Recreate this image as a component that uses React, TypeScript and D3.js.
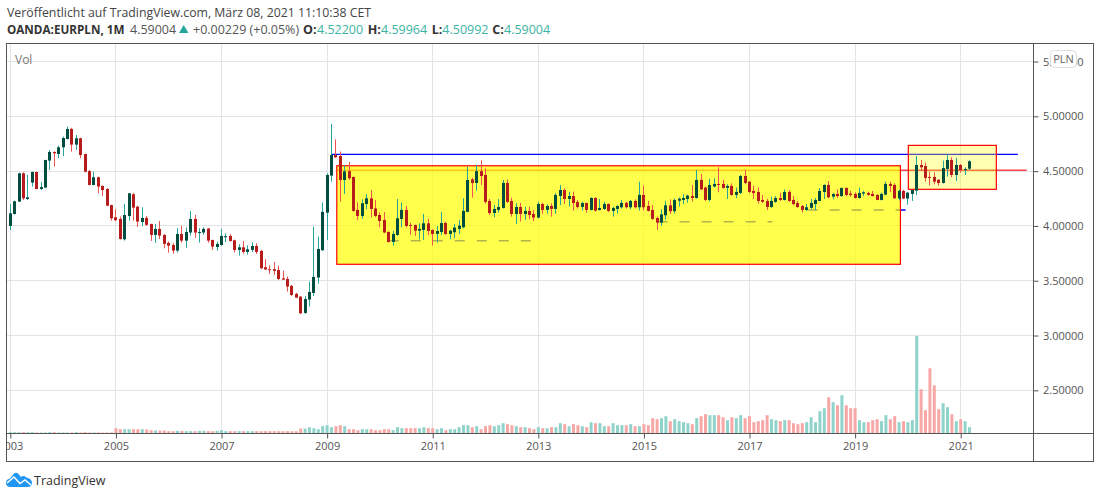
import * as React from 'react';
import * as d3 from 'd3';

const FONT = '"Open Sans", "DejaVu Sans", sans-serif';

// monthly candles from Jan 2003, one row per year
const opens = [
  4.000,4.109,4.222,4.480,4.246,4.395,4.492,4.337,4.350,4.596,4.675,4.656,
  4.717,4.793,4.884,4.742,4.800,4.656,4.500,4.374,4.444,4.365,4.337,4.190,
  4.079,4.064,3.878,4.090,4.289,4.176,4.036,4.073,4.018,3.918,3.973,3.918,
  3.845,3.826,3.775,3.927,3.866,3.940,4.064,3.940,3.940,3.976,3.872,3.808,
  3.826,3.903,3.909,3.869,3.781,3.805,3.763,3.781,3.817,3.772,3.623,3.605,
  3.605,3.598,3.522,3.516,3.453,3.380,3.355,3.206,3.328,3.389,3.529,3.778,
  4.121,4.459,4.647,4.638,4.419,4.500,4.447,4.146,4.091,4.200,4.252,4.160,
  4.100,4.055,3.945,3.854,3.918,4.064,4.146,4.009,4.009,3.957,3.963,4.024,
  3.963,3.927,3.945,4.027,3.927,3.942,3.973,3.988,4.128,4.425,4.392,4.500,
  4.465,4.228,4.118,4.146,4.164,4.392,4.228,4.109,4.173,4.109,4.137,4.109,
  4.076,4.200,4.146,4.182,4.155,4.273,4.328,4.246,4.273,4.219,4.173,4.209,
  4.146,4.255,4.146,4.155,4.200,4.137,4.155,4.170,4.210,4.170,4.228,4.170,
  4.283,4.182,4.146,4.073,4.030,4.097,4.188,4.134,4.230,4.237,4.246,4.273,
  4.255,4.420,4.350,4.237,4.360,4.383,4.383,4.347,4.365,4.283,4.301,4.456,
  4.404,4.320,4.310,4.237,4.228,4.173,4.220,4.255,4.237,4.310,4.237,4.210,
  4.182,4.146,4.165,4.200,4.228,4.310,4.374,4.267,4.292,4.273,4.347,4.295,
  4.292,4.255,4.295,4.301,4.292,4.283,4.237,4.286,4.383,4.374,4.250,4.320,
  4.250,4.292,4.322,4.556,4.547,4.447,4.447,4.422,4.392,4.520,4.602,4.465,
  4.556,4.510,4.522,
];
const highs = [
  4.200,4.231,4.485,4.490,4.465,4.495,4.495,4.401,4.602,4.693,4.680,4.732,
  4.815,4.906,4.895,4.830,4.805,4.660,4.510,4.495,4.450,4.370,4.345,4.195,
  4.152,4.085,4.200,4.300,4.300,4.185,4.170,4.090,4.020,4.018,4.045,3.925,
  3.857,3.842,3.979,4.000,3.988,4.137,4.100,3.979,3.988,3.980,3.875,3.857,
  3.973,3.933,3.924,3.875,3.833,3.863,3.823,3.851,3.842,3.780,3.696,3.641,
  3.672,3.635,3.592,3.538,3.463,3.390,3.360,3.361,3.492,3.994,3.903,4.213,
  4.480,4.930,4.790,4.680,4.556,4.584,4.450,4.216,4.243,4.292,4.328,4.237,
  4.124,4.128,3.950,3.957,4.246,4.213,4.182,4.030,4.012,4.024,4.109,4.064,
  3.970,4.000,4.128,4.040,3.963,4.018,4.055,4.252,4.541,4.440,4.556,4.600,
  4.526,4.246,4.191,4.246,4.419,4.425,4.258,4.207,4.210,4.176,4.176,4.146,
  4.220,4.210,4.197,4.207,4.298,4.374,4.343,4.313,4.313,4.237,4.220,4.213,
  4.262,4.262,4.246,4.220,4.207,4.176,4.190,4.237,4.222,4.237,4.243,4.404,
  4.368,4.228,4.192,4.085,4.152,4.228,4.243,4.252,4.261,4.289,4.286,4.374,
  4.511,4.474,4.360,4.429,4.435,4.535,4.420,4.380,4.389,4.350,4.465,4.511,
  4.410,4.368,4.350,4.283,4.246,4.267,4.273,4.304,4.334,4.328,4.273,4.228,
  4.190,4.200,4.246,4.255,4.344,4.380,4.410,4.298,4.334,4.347,4.350,4.320,
  4.307,4.350,4.319,4.313,4.319,4.289,4.304,4.404,4.404,4.389,4.330,4.330,
  4.310,4.328,4.638,4.602,4.577,4.495,4.489,4.425,4.596,4.653,4.626,4.623,
  4.565,4.535,4.59964,
];
const lows = [
  3.963,4.105,4.220,4.237,4.237,4.359,4.335,4.328,4.345,4.511,4.541,4.617,
  4.638,4.790,4.678,4.693,4.617,4.489,4.370,4.370,4.298,4.273,4.180,4.048,
  4.045,3.875,3.866,4.048,4.048,3.990,4.000,4.000,3.863,3.845,3.881,3.796,
  3.757,3.747,3.757,3.848,3.800,3.912,3.893,3.848,3.921,3.848,3.781,3.775,
  3.820,3.851,3.857,3.757,3.729,3.747,3.738,3.763,3.744,3.605,3.600,3.562,
  3.553,3.507,3.507,3.401,3.361,3.342,3.197,3.197,3.264,3.361,3.474,3.772,
  3.872,4.404,4.620,4.222,4.292,4.420,4.130,4.055,4.064,4.152,4.076,4.080,
  3.988,3.933,3.848,3.820,3.909,3.988,3.985,3.918,3.909,3.878,3.872,3.918,
  3.820,3.848,3.918,3.918,3.878,3.888,3.924,3.978,4.125,4.258,4.322,4.374,
  4.203,4.100,4.079,4.121,4.158,4.210,4.085,4.018,4.040,4.055,4.060,4.045,
  4.070,4.110,4.110,4.085,4.110,4.190,4.200,4.176,4.140,4.160,4.140,4.120,
  4.140,4.130,4.140,4.146,4.125,4.085,4.115,4.158,4.160,4.152,4.160,4.140,
  4.143,4.131,4.055,3.963,4.000,4.058,4.109,4.112,4.176,4.200,4.213,4.222,
  4.249,4.328,4.228,4.222,4.350,4.307,4.340,4.246,4.273,4.255,4.290,4.380,
  4.300,4.246,4.204,4.210,4.146,4.165,4.210,4.228,4.232,4.219,4.190,4.165,
  4.122,4.137,4.155,4.146,4.225,4.246,4.252,4.243,4.255,4.264,4.270,4.267,
  4.249,4.249,4.273,4.276,4.267,4.234,4.232,4.280,4.310,4.246,4.233,4.243,
  4.194,4.228,4.283,4.504,4.404,4.368,4.380,4.368,4.386,4.450,4.444,4.410,
  4.486,4.465,4.50992,
];
const closes = [
  4.115,4.225,4.480,4.252,4.261,4.492,4.337,4.355,4.602,4.675,4.663,4.717,
  4.802,4.884,4.742,4.800,4.647,4.495,4.374,4.444,4.359,4.328,4.185,4.070,
  4.052,3.881,4.100,4.298,4.167,4.040,4.073,4.010,3.918,3.973,3.912,3.836,
  3.820,3.775,3.927,3.866,3.945,4.064,3.940,3.945,3.973,3.866,3.811,3.836,
  3.909,3.906,3.863,3.781,3.805,3.763,3.787,3.817,3.763,3.614,3.602,3.602,
  3.590,3.516,3.510,3.447,3.370,3.346,3.203,3.334,3.398,3.535,3.790,4.128,
  4.465,4.647,4.626,4.419,4.498,4.435,4.137,4.091,4.207,4.252,4.155,4.091,
  4.045,3.940,3.854,3.927,4.070,4.146,4.000,4.003,3.957,3.973,4.024,3.954,
  3.927,3.954,4.027,3.927,3.957,3.985,4.003,4.137,4.419,4.392,4.500,4.456,
  4.219,4.118,4.155,4.173,4.392,4.219,4.109,4.173,4.109,4.137,4.100,4.076,
  4.200,4.146,4.182,4.155,4.283,4.328,4.246,4.273,4.209,4.173,4.209,4.146,
  4.255,4.140,4.164,4.200,4.137,4.164,4.182,4.210,4.170,4.228,4.170,4.283,
  4.170,4.137,4.064,4.030,4.106,4.188,4.134,4.237,4.248,4.255,4.276,4.255,
  4.420,4.334,4.237,4.374,4.383,4.374,4.347,4.365,4.283,4.310,4.456,4.392,
  4.310,4.300,4.228,4.220,4.173,4.228,4.255,4.237,4.310,4.228,4.200,4.173,
  4.146,4.170,4.210,4.237,4.319,4.374,4.261,4.292,4.273,4.347,4.283,4.283,
  4.255,4.301,4.307,4.283,4.273,4.237,4.292,4.383,4.365,4.252,4.320,4.250,
  4.304,4.328,4.556,4.535,4.438,4.438,4.404,4.392,4.529,4.602,4.465,4.556,
  4.511,4.520,4.59004,
];
const volumes = [
  4,4,4,4,4,4,3,3,3,4,4,3,
  3,3,3,4,3,4,3,3,3,3,3,3,
  16,13,13,13,13,13,13,12,10,9,9,9,
  7,7,8,8,7,7,7,8,8,7,7,8,
  10,7,7,7,7,7,7,7,7,7,7,7,
  7,7,7,7,7,7,15,15,19,16,13,22,
  25,19,22,25,22,13,13,10,13,13,13,10,
  10,13,13,10,19,16,16,16,16,16,19,16,
  16,13,16,10,13,13,19,25,25,19,22,13,
  22,25,22,25,31,28,25,22,19,19,16,13,
  19,16,16,19,19,31,28,22,28,25,22,19,
  34,31,31,22,22,31,25,25,25,28,22,22,
  28,25,46,43,46,52,37,43,37,34,31,28,
  46,52,58,55,55,55,49,40,49,46,55,46,
  52,34,37,40,55,43,40,37,40,40,31,28,
  31,34,49,34,67,76,109,94,85,115,85,76,
  76,40,34,34,40,43,37,55,43,52,34,37,
  34,40,293,133,70,196,145,73,91,79,58,37,
  43,37,19,
];

const yearLabels = ['2003','2005','2007','2009','2011','2013','2015','2017','2019','2021'];
const priceTicks = [5.5, 5, 4.5, 4, 3.5, 3, 2.5];

// hand-drawn objects on the chart, in [month index, price]
const boxes = [
  { from: 74.2, to: 202.3, top: 4.549, bottom: 3.65, fill: 'rgba(255,255,0,0.7)' },
  { from: 204.1, to: 224.1, top: 4.735, bottom: 4.334, fill: 'rgba(255,255,0,0.3)' },
];
const levels = [
  { from: 73.1, to: 229, price: 4.653, color: '#0000ff', width: 1.2, dash: null },
  { from: 74.2, to: 231, price: 4.507, color: '#ff3d4f', width: 1.5, dash: null },
  { from: 86, to: 118.3, price: 3.865, color: '#0000ff', width: 1.4, dash: '10 12' },
  { from: 147.1, to: 173.2, price: 4.038, color: '#0000ff', width: 1.4, dash: '10 12' },
  { from: 181.2, to: 203.5, price: 4.145, color: '#0000ff', width: 1.4, dash: '10 12' },
];

const quoteParts = [
  { x: 130, text: '4.59004', color: '#555', weight: 400 },
  { x: 193, text: '+0.00229 (+0.05%)', color: '#555', weight: 400 },
  { x: 303, text: 'O:', color: '#333', weight: 700 },
  { x: 317, text: '4.52200', color: '#3bb3a4', weight: 400 },
  { x: 367.7, text: 'H:', color: '#333', weight: 700 },
  { x: 381, text: '4.59964', color: '#3bb3a4', weight: 400 },
  { x: 431.7, text: 'L:', color: '#333', weight: 700 },
  { x: 442.3, text: '4.50992', color: '#3bb3a4', weight: 400 },
  { x: 492.3, text: 'C:', color: '#333', weight: 700 },
  { x: 504, text: '4.59004', color: '#3bb3a4', weight: 400 },
];

const frame = { left: 6.5, right: 1093.5, top: 43.5, bottom: 461.5, axisX: 1033.5, axisY: 433.5 };

const App = () => {
  const ref = React.useRef<SVGSVGElement>(null);

  React.useEffect(() => {
    const svg = d3.select(ref.current);
    svg.selectAll('*').remove();

    const x = d3.scaleLinear().domain([0, 216]).range([10.33, 960.7]);
    const y = d3.scaleLinear().domain([5, 2.5]).range([116.33, 390.33]);
    const vol = d3.scaleLinear().domain([0, 293]).range([frame.axisY, 336]);
    const crisp = (v: number) => Math.floor(v) + 0.5;

    const yearIdx = yearLabels.map((_, i) => i * 24);

    svg.append('defs').append('clipPath').attr('id', 'pane')
      .append('rect')
      .attr('x', frame.left).attr('y', frame.top)
      .attr('width', frame.axisX - frame.left).attr('height', frame.bottom - frame.top);

    const g = svg.append('g').attr('clip-path', 'url(#pane)');

    // grid
    g.selectAll('.vgrid').data(yearIdx).enter().append('line')
      .attr('x1', (d) => crisp(x(d))).attr('x2', (d) => crisp(x(d)))
      .attr('y1', frame.top).attr('y2', frame.axisY)
      .attr('stroke', '#e4e4e6');
    g.selectAll('.hgrid').data(priceTicks).enter().append('line')
      .attr('x1', frame.left).attr('x2', frame.axisX)
      .attr('y1', (d) => crisp(y(d))).attr('y2', (d) => crisp(y(d)))
      .attr('stroke', '#e4e4e6');

    // levels sit under the boxes, the yellow tints them
    g.selectAll('.level').data(levels).enter().append('line')
      .attr('x1', (d) => x(d.from)).attr('x2', (d) => x(d.to))
      .attr('y1', (d) => y(d.price)).attr('y2', (d) => y(d.price))
      .attr('stroke', (d) => d.color)
      .attr('stroke-width', (d) => d.width)
      .attr('stroke-dasharray', (d) => d.dash);

    g.selectAll('.box').data(boxes).enter().append('rect')
      .attr('x', (d) => x(d.from)).attr('y', (d) => y(d.top))
      .attr('width', (d) => x(d.to) - x(d.from))
      .attr('height', (d) => y(d.bottom) - y(d.top))
      .attr('fill', (d) => d.fill)
      .attr('stroke', '#ff0000').attr('stroke-width', 1.2);

    const isUp = (i: number) => closes[i] >= opens[i];

    // volume
    g.selectAll('.vol').data(volumes).enter().append('rect')
      .attr('x', (_, i) => x(i) - 1.5)
      .attr('y', (d) => vol(d))
      .attr('width', 3)
      .attr('height', (d) => frame.axisY - vol(d))
      .attr('fill', (_, i) => (isUp(i) ? '#8fd3cb' : '#f7a8a6'));

    // candles
    const months = d3.range(opens.length);
    g.selectAll('.wick').data(months).enter().append('line')
      .attr('x1', (i) => crisp(x(i))).attr('x2', (i) => crisp(x(i)))
      .attr('y1', (i) => y(highs[i])).attr('y2', (i) => y(lows[i]))
      .attr('stroke', (i) => (isUp(i) ? '#26a69a' : '#ef5350'));
    g.selectAll('.body').data(months).enter().append('rect')
      .attr('x', (i) => crisp(x(i)) - 1.5)
      .attr('y', (i) => y(Math.max(opens[i], closes[i])))
      .attr('width', 3)
      .attr('height', (i) => Math.max(1, Math.abs(y(opens[i]) - y(closes[i]))))
      .attr('fill', (i) => (isUp(i) ? '#004d40' : '#b71c1c'));

    g.append('text').attr('x', 15).attr('y', 64)
      .attr('font-family', FONT).attr('font-size', 12).attr('fill', '#777').text('Vol');

    // axes
    const priceAxis = d3.axisRight(y).tickValues(priceTicks).tickSize(5).tickPadding(4.5)
      .tickFormat((d: any) => d3.format('.5f')(d));
    const priceG = svg.append('g').attr('transform', `translate(${frame.axisX},0)`).call(priceAxis);
    priceG.select('.domain').remove();
    priceG.selectAll('.tick line').attr('stroke', '#555');
    priceG.selectAll('text')
      .attr('font-family', FONT).attr('font-size', 11).attr('fill', '#555');

    const timeAxis = d3.axisBottom(x).tickValues(yearIdx).tickSize(5).tickPadding(3.5)
      .tickFormat((_: any, i: number) => yearLabels[i]);
    const timeG = svg.append('g').attr('transform', `translate(0,${frame.axisY})`)
      .attr('clip-path', 'url(#timeClip)').call(timeAxis);
    svg.select('defs').append('clipPath').attr('id', 'timeClip')
      .append('rect').attr('x', frame.left).attr('y', 0)
      .attr('width', frame.axisX - frame.left).attr('height', 40);
    timeG.select('.domain').remove();
    timeG.selectAll('.tick line').attr('stroke', '#555');
    timeG.selectAll('text')
      .attr('font-family', FONT).attr('font-size', 11).attr('fill', '#555');

    // frame
    svg.append('rect')
      .attr('x', frame.left).attr('y', frame.top)
      .attr('width', frame.right - frame.left).attr('height', frame.bottom - frame.top)
      .attr('fill', 'none').attr('stroke', '#555');
    svg.append('line').attr('x1', frame.axisX).attr('x2', frame.axisX)
      .attr('y1', frame.top).attr('y2', frame.bottom).attr('stroke', '#555');
    svg.append('line').attr('x1', frame.left).attr('x2', frame.right)
      .attr('y1', frame.axisY).attr('y2', frame.axisY).attr('stroke', '#555');

    // currency badge covers the top price label
    svg.append('rect').attr('x', 1050.5).attr('y', 50.5).attr('width', 26).attr('height', 17).attr('rx', 4)
      .attr('fill', '#fff').attr('stroke', '#ddd');
    svg.append('text').attr('x', 1063.5).attr('y', 63).attr('text-anchor', 'middle')
      .attr('font-family', FONT).attr('font-size', 11).attr('fill', '#666').text('PLN');

    // header
    svg.append('text').attr('x', 7).attr('y', 17)
      .attr('font-family', FONT).attr('font-size', 12.3).attr('fill', '#444')
      .text('Veröffentlicht auf TradingView.com, März 08, 2021 11:10:38 CET');
    svg.append('text').attr('x', 7).attr('y', 33.5)
      .attr('font-family', FONT).attr('font-size', 11.7).attr('font-weight', 700).attr('fill', '#333')
      .text('OANDA:EURPLN, 1M');
    svg.append('path').attr('d', 'M179 33 L183.7 25 L188.5 33 Z').attr('fill', '#26a69a');
    svg.selectAll('.quote').data(quoteParts).enter().append('text')
      .attr('x', (d) => d.x).attr('y', 33.5)
      .attr('font-family', FONT).attr('font-size', 12.5)
      .attr('font-weight', (d) => d.weight).attr('fill', (d) => d.color)
      .text((d) => d.text);

    // logo
    svg.append('path')
      .attr('d', 'M6 483 C6 480 8 479 10 478.5 L14 473.5 C15 472.5 17 472.5 18 473.5 L21 477 C23 475.5 25 476 26 477.5 C30 478 32 480.5 32 483 C32 485.5 30 487 28 487 L10 487 C8 487 6 485.5 6 483 Z')
      .attr('fill', '#2196f3');
    svg.append('path')
      .attr('d', 'M7 483 L14 477 L20 483.5 L25 480 L31 485')
      .attr('fill', 'none').attr('stroke', '#fff').attr('stroke-width', 1.5);
    svg.append('text').attr('x', 34).attr('y', 484.5)
      .attr('font-family', FONT).attr('font-size', 12.5).attr('fill', '#333').text('TradingView');
  }, []);

  return (
    <svg
      ref={ref}
      width={1100}
      height={498}
      style={{ position: 'absolute', left: 0, top: 0, background: '#fff' }}
    />
  );
};

export default App;
